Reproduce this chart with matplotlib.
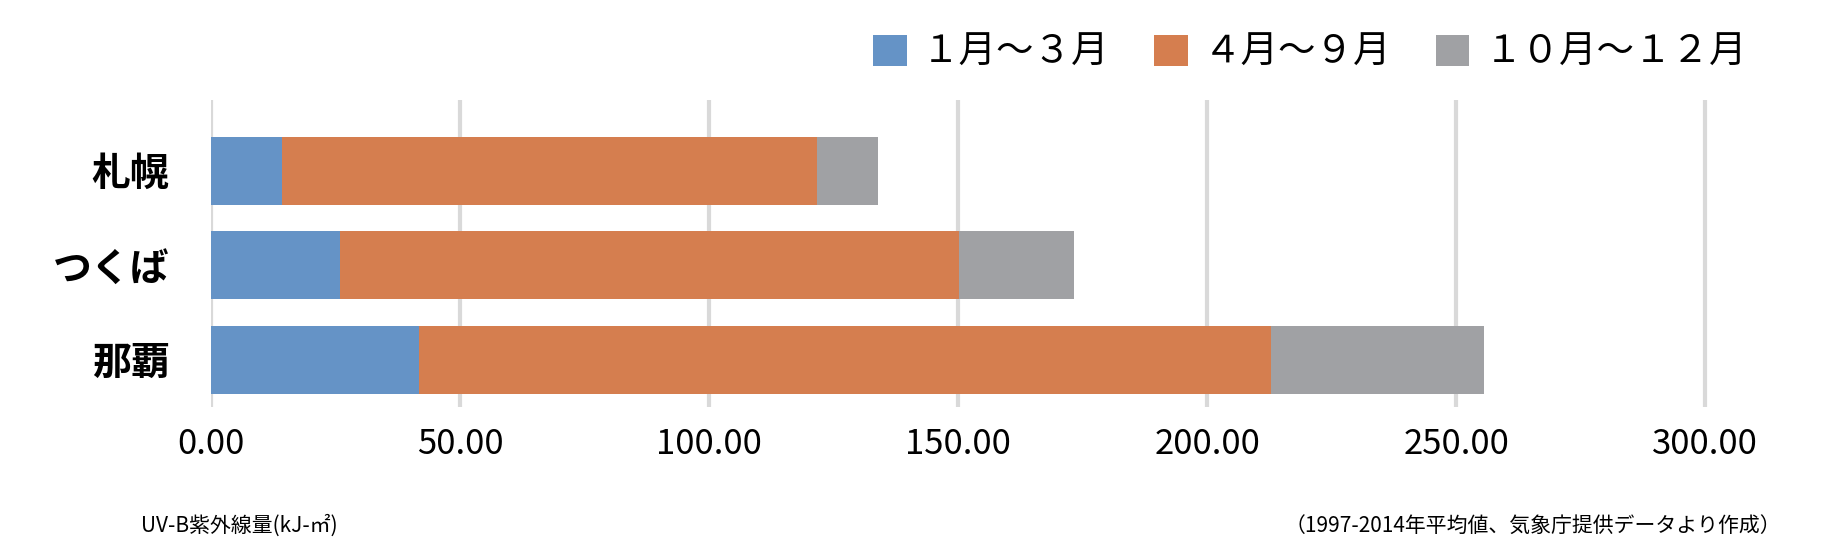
import matplotlib
matplotlib.use("Agg")
import matplotlib.pyplot as plt

plt.rcParams['font.family'] = ['Noto Sans CJK JP', 'DejaVu Sans']

cities = ["札幌", "つくば", "那覇"]
series = ["１月～３月", "４月～９月", "１０月～１２月"]
q1 = [14.3, 25.8, 41.8]
q2 = [107.4, 124.3, 171.1]
q3 = [12.2, 23.2, 42.7]
colors = ["#6593C6", "#D57E4F", "#A0A1A4"]
ticks = [0, 50, 100, 150, 200, 250, 300]

fig = plt.figure(figsize=(18.36, 5.54), dpi=100)
ax = fig.add_axes([0.115, 0.265, 0.83, 0.555])
y = [2, 1, 0]
left = [0, 0, 0]
for vals, lab, c in zip([q1, q2, q3], series, colors):
    ax.barh(y, vals, left=left, height=0.72, color=c, label=lab, zorder=3)
    left = [l + v for l, v in zip(left, vals)]
ax.set_xlim(0, 306)
ax.set_ylim(-0.5, 2.75)
ax.set_xticks(ticks)
ax.set_xticklabels([f"{t:.2f}" for t in ticks], fontsize=25)
ax.set_yticks(y)
ax.set_yticklabels(cities, fontsize=28, fontweight='bold')
ax.tick_params(length=0, pad=14)
ax.tick_params(axis='y', pad=30)
ax.grid(axis='x', color='#D9D9D9', linewidth=3, zorder=0)
for s in ax.spines.values():
    s.set_visible(False)
ax.legend(loc='lower right', bbox_to_anchor=(1.03, 0.98), ncol=3, frameon=False,
          fontsize=27, handlelength=0.9, handleheight=0.9, columnspacing=1.2, handletextpad=0.4)
fig.text(0.077, 0.04, "UV-B紫外線量(kJ-㎡)", fontsize=15)
fig.text(0.97, 0.04, "（1997-2014年平均値、気象庁提供データより作成）", fontsize=15, ha='right')
fig.savefig("out.png", dpi=100)
